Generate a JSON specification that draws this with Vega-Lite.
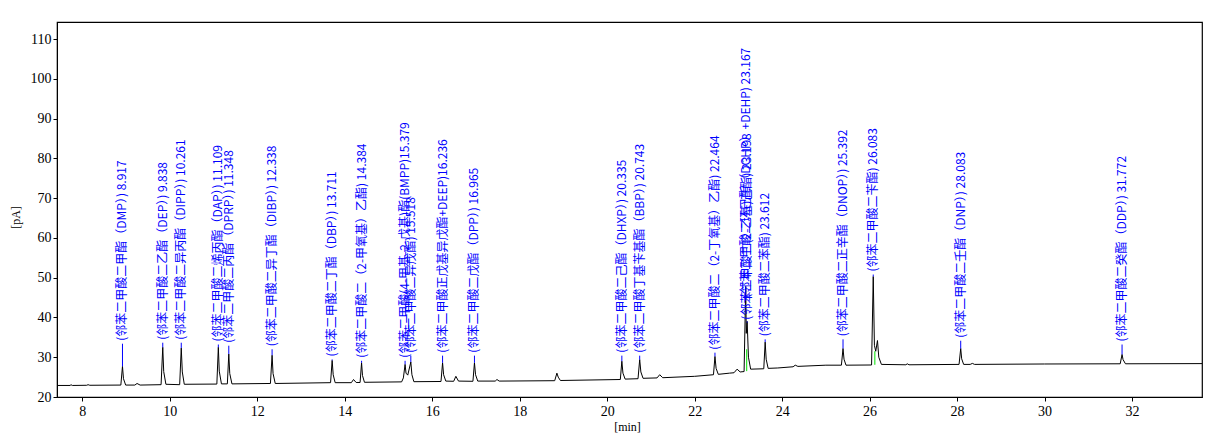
{
  "$schema": "https://vega.github.io/schema/vega-lite/v6.json",
  "width": 1145,
  "height": 375,
  "autosize": {"type": "none"},
  "padding": {"left": 57, "top": 22, "right": 4, "bottom": 38},
  "background": "white",
  "config": {
    "view": {"stroke": "black", "strokeWidth": 1.2},
    "axis": {
      "labelFont": "Liberation Serif, Times New Roman, serif",
      "labelFontSize": 14,
      "labelColor": "black",
      "titleFont": "Liberation Serif, Times New Roman, serif",
      "titleFontSize": 12,
      "titleFontWeight": "normal",
      "titleColor": "black",
      "domainColor": "black",
      "tickColor": "black",
      "tickSize": 4,
      "grid": false
    }
  },
  "datasets": {
    "trace": [
      {"t": 7.42, "pA": 22.9}, {"t": 7.72, "pA": 22.9}, {"t": 7.74, "pA": 23.1}, {"t": 7.77, "pA": 22.9},
      {"t": 8.1, "pA": 22.95}, {"t": 8.13, "pA": 23.1}, {"t": 8.17, "pA": 22.95},
      {"t": 8.88, "pA": 23.0}, {"t": 8.917, "pA": 27.7}, {"t": 8.94, "pA": 24.6}, {"t": 8.99, "pA": 23.0},
      {"t": 9.2, "pA": 23.0}, {"t": 9.25, "pA": 23.4}, {"t": 9.32, "pA": 23.0},
      {"t": 9.8, "pA": 23.1}, {"t": 9.838, "pA": 32.5}, {"t": 9.86, "pA": 26.4}, {"t": 9.91, "pA": 23.2},
      {"t": 10.225, "pA": 23.1}, {"t": 10.261, "pA": 32.3}, {"t": 10.285, "pA": 26.3}, {"t": 10.33, "pA": 23.2},
      {"t": 11.075, "pA": 23.25}, {"t": 11.109, "pA": 32.5}, {"t": 11.13, "pA": 26.5}, {"t": 11.18, "pA": 23.3},
      {"t": 11.315, "pA": 23.3}, {"t": 11.348, "pA": 30.8}, {"t": 11.37, "pA": 25.9}, {"t": 11.42, "pA": 23.3},
      {"t": 12.3, "pA": 23.4}, {"t": 12.338, "pA": 30.5}, {"t": 12.36, "pA": 25.9}, {"t": 12.41, "pA": 23.4},
      {"t": 13.675, "pA": 23.6}, {"t": 13.711, "pA": 29.2}, {"t": 13.735, "pA": 25.6}, {"t": 13.78, "pA": 23.6},
      {"t": 14.15, "pA": 23.6}, {"t": 14.2, "pA": 24.4}, {"t": 14.26, "pA": 23.65},
      {"t": 14.35, "pA": 23.65}, {"t": 14.384, "pA": 28.6}, {"t": 14.405, "pA": 25.4}, {"t": 14.45, "pA": 23.7},
      {"t": 15.3, "pA": 23.8}, {"t": 15.34, "pA": 24.8}, {"t": 15.379, "pA": 28.2}, {"t": 15.4, "pA": 26.0}, {"t": 15.44, "pA": 25.5}, {"t": 15.51, "pA": 28.8}, {"t": 15.535, "pA": 25.6}, {"t": 15.58, "pA": 23.85},
      {"t": 16.2, "pA": 23.9}, {"t": 16.236, "pA": 28.6}, {"t": 16.26, "pA": 25.6}, {"t": 16.31, "pA": 24.0},
      {"t": 16.49, "pA": 23.95}, {"t": 16.54, "pA": 25.2}, {"t": 16.6, "pA": 24.0},
      {"t": 16.93, "pA": 23.95}, {"t": 16.965, "pA": 28.6}, {"t": 16.99, "pA": 25.6}, {"t": 17.04, "pA": 24.0},
      {"t": 17.44, "pA": 24.0}, {"t": 17.48, "pA": 24.4}, {"t": 17.53, "pA": 24.0},
      {"t": 18.8, "pA": 24.1}, {"t": 18.85, "pA": 26.0}, {"t": 18.88, "pA": 25.0}, {"t": 18.93, "pA": 24.15},
      {"t": 20.3, "pA": 24.4}, {"t": 20.335, "pA": 29.0}, {"t": 20.36, "pA": 26.0}, {"t": 20.41, "pA": 24.5},
      {"t": 20.705, "pA": 24.6}, {"t": 20.743, "pA": 29.4}, {"t": 20.77, "pA": 26.3}, {"t": 20.82, "pA": 24.7},
      {"t": 21.14, "pA": 24.8}, {"t": 21.2, "pA": 25.6}, {"t": 21.27, "pA": 24.85},
      {"t": 22.0, "pA": 25.2},
      {"t": 22.43, "pA": 25.6}, {"t": 22.464, "pA": 30.2}, {"t": 22.49, "pA": 27.2}, {"t": 22.54, "pA": 25.7},
      {"t": 22.8, "pA": 26.0}, {"t": 22.9, "pA": 26.1}, {"t": 22.97, "pA": 27.0}, {"t": 23.04, "pA": 26.3},
      {"t": 23.13, "pA": 26.4}, {"t": 23.167, "pA": 47.8}, {"t": 23.18, "pA": 36.0}, {"t": 23.2, "pA": 39.0}, {"t": 23.23, "pA": 30.0}, {"t": 23.28, "pA": 27.0},
      {"t": 23.58, "pA": 27.1}, {"t": 23.612, "pA": 33.8}, {"t": 23.635, "pA": 29.5}, {"t": 23.68, "pA": 27.2},
      {"t": 23.9, "pA": 27.3}, {"t": 24.25, "pA": 27.6}, {"t": 24.3, "pA": 28.0}, {"t": 24.36, "pA": 27.7},
      {"t": 25.0, "pA": 28.0},
      {"t": 25.355, "pA": 28.0}, {"t": 25.392, "pA": 32.2}, {"t": 25.415, "pA": 29.5}, {"t": 25.46, "pA": 28.0},
      {"t": 26.045, "pA": 28.05}, {"t": 26.083, "pA": 50.3}, {"t": 26.11, "pA": 33.0}, {"t": 26.14, "pA": 31.5}, {"t": 26.18, "pA": 34.2}, {"t": 26.21, "pA": 30.0}, {"t": 26.27, "pA": 28.2},
      {"t": 26.83, "pA": 28.1}, {"t": 26.86, "pA": 28.35}, {"t": 26.9, "pA": 28.1},
      {"t": 28.045, "pA": 28.2}, {"t": 28.083, "pA": 32.2}, {"t": 28.105, "pA": 29.6}, {"t": 28.15, "pA": 28.2},
      {"t": 28.3, "pA": 28.2}, {"t": 28.35, "pA": 28.45}, {"t": 28.4, "pA": 28.2},
      {"t": 30.0, "pA": 28.3},
      {"t": 31.73, "pA": 28.35}, {"t": 31.772, "pA": 30.7}, {"t": 31.795, "pA": 29.4}, {"t": 31.85, "pA": 28.35},
      {"t": 33.6, "pA": 28.4}
    ],
    "drops": [
      {"t": 23.19, "lo": 26.5, "hi": 32.0},
      {"t": 26.12, "lo": 28.1, "hi": 31.5}
    ],
    "peaks": [
      {"t": 8.917, "h": 27.7, "lh": 33.4, "label": "(邻苯二甲酸二甲酯（DMP）) 8.917"},
      {"t": 9.838, "h": 32.5, "lh": 33.65, "label": "(邻苯二甲酸二乙酯（DEP）) 9.838"},
      {"t": 10.261, "h": 32.3, "lh": 33.65, "label": "(邻苯二甲酸二异丙酯（DIPP）) 10.261"},
      {"t": 11.109, "h": 32.5, "lh": 33.2, "label": "(邻苯二甲酸二烯丙酯（DAP）) 11.109"},
      {"t": 11.348, "h": 30.8, "lh": 32.9, "label": "(邻苯二甲酸二丙酯（DPRP）) 11.348"},
      {"t": 12.338, "h": 30.5, "lh": 32.0, "label": "(邻苯二甲酸二异丁酯（DIBP）) 12.338"},
      {"t": 13.711, "h": 29.2, "lh": 29.45, "label": "(邻苯二甲酸二丁酯（DBP）) 13.711"},
      {"t": 14.384, "h": 28.6, "lh": 29.1, "label": "(邻苯二甲酸二（2-甲氧基）乙酯) 14.384"},
      {"t": 15.379, "h": 28.2, "lh": 29.1, "label": "(邻苯二甲酸(4-甲基-2-戊基)酯(BMPP)15.379"},
      {"t": 15.51, "h": 28.8, "lh": 30.4, "label": "(邻苯二甲酸二异戊酯) 15.518"},
      {"t": 16.236, "h": 28.6, "lh": 30.4, "label": "(邻苯二甲酸正戊基异戊酯+DEEP)16.236"},
      {"t": 16.965, "h": 28.6, "lh": 30.4, "label": "(邻苯二甲酸二戊酯（DPP）) 16.965"},
      {"t": 20.335, "h": 29.0, "lh": 30.4, "label": "(邻苯二甲酸二己酯（DHXP）) 20.335"},
      {"t": 20.743, "h": 29.4, "lh": 30.4, "label": "(邻苯二甲酸丁基苄基酯（BBP）) 20.743"},
      {"t": 22.464, "h": 30.2, "lh": 31.15, "label": "(邻苯二甲酸二（2-丁氧基）乙酯) 22.464"},
      {"t": 23.167, "h": 47.8, "lh": 44.2, "label": "(邻苯二甲酸二环己酯（DCHP）+DEHP) 23.167"},
      {"t": 23.2, "h": 39.0, "lh": 38.7, "label": "(邻苯二甲酸二(2-乙基)己酯) 23.198"},
      {"t": 23.612, "h": 33.8, "lh": 34.5, "label": "(邻苯二甲酸二苯酯) 23.612"},
      {"t": 25.392, "h": 32.2, "lh": 34.5, "label": "(邻苯二甲酸二正辛酯（DNOP）) 25.392"},
      {"t": 26.083, "h": 50.3, "lh": 50.8, "label": "(邻苯二甲酸二苄酯) 26.083"},
      {"t": 28.083, "h": 32.2, "lh": 34.15, "label": "(邻苯二甲酸二壬酯（DNP）) 28.083"},
      {"t": 31.772, "h": 30.7, "lh": 33.2, "label": "(邻苯二甲酸二癸酯（DDP）) 31.772"}
    ]
  },
  "layer": [
    {
      "data": {"name": "trace"},
      "mark": {"type": "line", "color": "black", "strokeWidth": 1, "interpolate": "linear"},
      "encoding": {
        "x": {
          "field": "t", "type": "quantitative",
          "scale": {"domain": [7.42, 33.6], "nice": false, "zero": false},
          "axis": {
            "values": [8, 10, 12, 14, 16, 18, 20, 22, 24, 26, 28, 30, 32],
            "title": "[min]",
            "labelFont": "Liberation Serif, Times New Roman, serif",
            "titleFont": "Liberation Serif, Times New Roman, serif",
            "titleX": 570, "titleY": 29, "titleAnchor": null, "titleAlign": "center", "titleBaseline": "middle",
            "labelPadding": 3, "labelFlush": false
          }
        },
        "y": {
          "field": "pA", "type": "quantitative",
          "scale": {"domain": [20, 114.3], "nice": false, "zero": false},
          "axis": {
            "values": [20, 25, 30, 35, 40, 45, 50, 55, 60, 65, 70, 75, 80, 85, 90, 95, 100, 105, 110],
            "title": "[pA]",
            "labelFont": "Liberation Serif, Times New Roman, serif",
            "titleFont": "Liberation Serif, Times New Roman, serif",
            "titleX": -42, "titleY": 195, "titleAngle": -90, "titleAlign": "center", "titleBaseline": "middle",
            "labelPadding": 2, "labelFlush": false
          }
        }
      }
    },
    {
      "data": {"name": "drops"},
      "mark": {"type": "rule", "color": "#00e000", "strokeWidth": 1},
      "encoding": {
        "x": {"field": "t", "type": "quantitative"},
        "y": {"field": "lo", "type": "quantitative"},
        "y2": {"field": "hi"}
      }
    },
    {
      "data": {"name": "peaks"},
      "mark": {"type": "rule", "color": "#0000ff", "strokeWidth": 1},
      "encoding": {
        "x": {"field": "t", "type": "quantitative"},
        "y": {"field": "lh", "type": "quantitative"},
        "y2": {"field": "h"}
      }
    },
    {
      "data": {"name": "peaks"},
      "mark": {"type": "text", "angle": 270, "align": "left", "baseline": "middle", "dx": 3, "color": "#0000ff", "font": "Noto Sans CJK SC", "fontSize": 12},
      "encoding": {
        "x": {"field": "t", "type": "quantitative"},
        "y": {"field": "lh", "type": "quantitative"},
        "text": {"field": "label"}
      }
    }
  ]
}
